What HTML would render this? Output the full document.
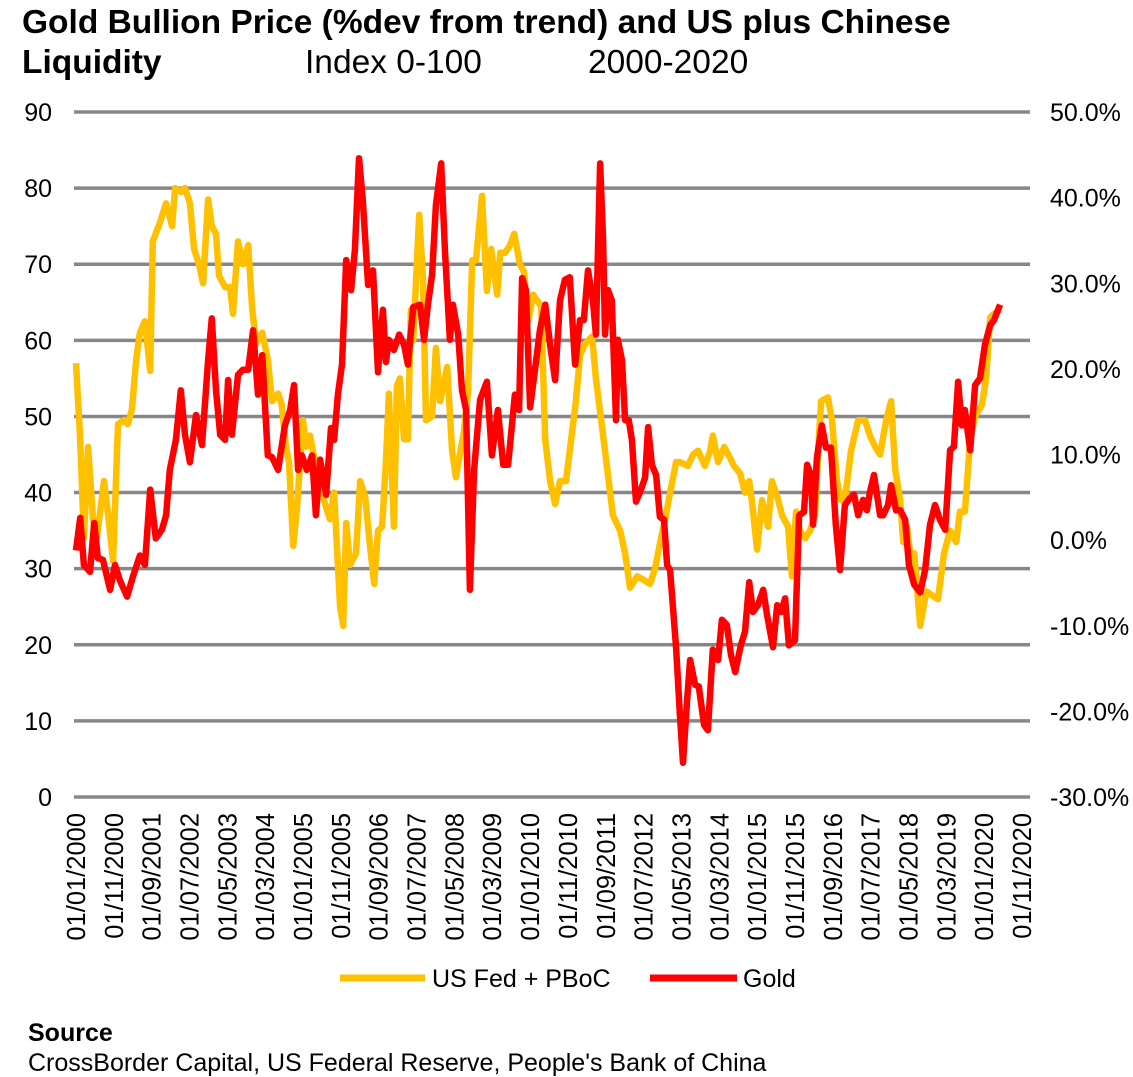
<!DOCTYPE html>
<html><head><meta charset="utf-8"><style>
body{margin:0;background:#fff;font-family:"Liberation Sans",Arial,sans-serif;}
#wrap{position:relative;width:1133px;height:1077px;overflow:hidden;}
</style></head><body>
<div id="wrap">
<svg id="chart" width="1133" height="1077" xmlns="http://www.w3.org/2000/svg" font-family="Liberation Sans, Arial, sans-serif">
<text x="22" y="33" font-size="33.5" font-weight="bold">Gold Bullion Price (%dev from trend) and US plus Chinese</text>
<text x="22" y="73" font-size="33.5" font-weight="bold">Liquidity</text>
<text x="305" y="73" font-size="33.5">Index 0-100</text>
<text x="588" y="73" font-size="33.5">2000-2020</text>
<g id="grid"></g><g id="yl"></g><g id="yr"></g><g id="xl"></g><g id="series"></g>
<line x1="340" y1="978" x2="425" y2="978" stroke="#FFC000" stroke-width="7"/>
<text x="432" y="987" font-size="25">US Fed + PBoC</text>
<line x1="650" y1="978" x2="737" y2="978" stroke="#FF0000" stroke-width="7"/>
<text x="743" y="987" font-size="25">Gold</text>
<text x="28" y="1041" font-size="25" font-weight="bold">Source</text>
<text x="28" y="1071" font-size="25">CrossBorder Capital, US Federal Reserve, People's Bank of China</text>
</svg></div>
<script>
const leftTicks=[0,10,20,30,40,50,60,70,80,90];
const rightTicks=["-30.0%","-20.0%","-10.0%","0.0%","10.0%","20.0%","30.0%","40.0%","50.0%"];
const xLabels=["01/01/2000","01/11/2000","01/09/2001","01/07/2002","01/05/2003","01/03/2004","01/01/2005","01/11/2005","01/09/2006","01/07/2007","01/05/2008","01/03/2009","01/01/2010","01/11/2010","01/09/2011","01/07/2012","01/05/2013","01/03/2014","01/01/2015","01/11/2015","01/09/2016","01/07/2017","01/05/2018","01/03/2019","01/01/2020","01/11/2020"];
const liqMonths=[0,1.1,2.1,3.2,4.5,5.5,7.4,8.5,9.8,11.1,12.7,13.7,14.8,15.9,16.9,18.2,19.6,20.3,22.2,23.8,25.4,26.2,27.7,28.8,30.1,31.2,32.5,33.6,34.9,35.9,37.0,37.8,39.4,40.7,41.5,42.8,44.1,45.5,46.5,47.6,49.2,50.7,51.8,53.4,54.4,55.5,56.3,57.4,58.4,60.0,60.8,61.8,63.4,64.5,65.5,67.1,68.2,69.8,70.6,71.4,72.4,74.0,75.1,76.4,77.7,78.8,79.8,80.9,81.9,82.7,84.0,84.8,85.6,86.7,87.7,88.5,89.1,90.7,91.7,92.5,94.1,95.1,96.2,98.1,99.4,100.4,102.5,103.6,104.7,105.7,107.3,108.6,109.7,111.3,112.1,113.4,114.7,115.8,117.3,118.4,119.5,120.8,122.9,124.0,125.3,126.6,127.9,129.5,131.1,132.1,133.2,134.5,136.4,137.4,138.8,139.8,141.9,143.8,145.1,146.4,148.3,150.1,151.7,153.0,154.6,155.7,157.0,158.6,159.6,161.7,163.1,164.4,166.2,167.6,168.3,169.7,171.3,172.9,173.9,175.5,176.8,177.9,178.6,180.0,181.3,182.9,183.9,185.3,186.6,188.2,189.2,190.3,191.3,192.7,194.0,195.3,196.3,196.9,198.7,199.8,201.1,202.2,203.2,204.8,206.7,208.5,209.8,211.2,212.5,214.1,215.4,216.5,217.8,218.6,219.6,220.7,221.5,223.1,224.7,226.2,227.8,229.4,231.0,232.6,233.6,234.9,236.3,237.6,239.4,240.5,241.6,242.6,244.2];
const liqValues=[57,47,34,46,36.5,34,41.5,37,31,49,49.5,49,51,57.5,61,62.5,56,73,75.5,78,75,80,79.5,80,78,72,70,67.5,78.5,75,74,68.5,67,67,63.5,73,70,72.5,64.5,59.5,61,57.5,52,53,51.5,46,44,33,38,49.5,46,47.5,43.5,43,39,36.5,40,25,22.5,36,30.5,32,41.5,39.5,33,28,35,35.5,44,53,35.5,54,55,47,47,64,60,76.5,68,49.5,50,59,52,56.5,45.5,42,48,53,70.5,70.5,79,66.5,72,66,71.5,71.5,72.5,74,70,69,62.5,66,64.5,47,41.5,38.5,41.5,41.5,48,52,58,59.5,60.5,55,49.5,45.5,37,35,32,27.5,29,28.5,28,30,34,36.5,40,44,44,43.5,45,45.5,43.5,45.5,47.5,44,46,44.5,43.5,42.5,40,41.5,39,32.5,39,35.5,41.5,39.5,37,35.5,29,37.5,35,34,35,37,47,52,52.5,49.5,41.5,39,39,45.5,49.5,49.5,47.5,46,45,49.5,52,43,39,33.5,35.5,31,32,22.5,27,26.5,26,32,35,33.5,37.5,37.5,47,50,51.5,55,63,63.5,64,65.5];
const goldMonths=[0,1.1,2.1,3.7,4.8,5.8,7.1,9.0,10.3,11.6,13.5,15.1,16.9,18.2,19.6,21.1,22.7,23.8,24.8,26.4,27.7,28.8,30.1,31.7,33.3,34.9,35.9,37.0,38.1,39.4,40.2,41.2,42.8,44.1,45.5,46.8,48.1,49.2,50.7,51.8,53.4,55.2,56.6,57.6,58.7,59.7,61.0,62.4,63.4,64.5,66.1,67.4,68.2,69.2,70.3,71.4,72.7,73.7,74.8,75.8,77.2,78.5,79.8,81.1,81.9,82.7,84.0,85.4,86.7,87.7,89.1,90.9,92.0,93.0,94.1,95.1,96.5,97.5,98.8,99.6,101.0,102.0,103.1,104.1,105.2,106.8,108.6,109.9,111.5,112.9,114.2,116.0,117.1,117.9,118.9,120.0,121.3,122.6,124.0,125.3,126.6,127.9,129.2,130.5,131.9,133.2,134.2,135.3,136.6,137.4,138.5,139.3,139.8,140.6,141.6,142.7,143.2,144.3,145.1,146.1,146.9,148.0,149.3,150.4,151.2,152.2,153.3,154.3,155.4,156.2,157.0,158.6,159.6,160.4,161.5,162.3,163.6,164.6,166.0,167.0,168.3,169.7,170.7,172.0,173.1,174.2,175.7,176.8,177.9,178.9,180.2,181.6,182.6,184.2,185.3,186.3,187.4,188.4,190.0,191.1,192.4,193.2,194.2,194.8,195.8,197.1,198.2,199.5,200.8,201.9,203.2,204.5,205.6,206.7,208.0,209.0,209.8,210.9,212.5,213.3,214.6,215.4,216.7,217.8,219.1,220.1,221.5,223.1,224.4,225.7,227.0,228.3,229.7,231.0,232.0,233.1,234.1,234.9,236.3,237.6,238.9,240.2,241.6,242.6,244.2];
const goldValues=[-1.2,2.6,-2.9,-3.7,2.0,-2.1,-2.3,-5.8,-2.9,-4.7,-6.6,-4.2,-1.8,-2.9,5.9,0.2,1.2,2.9,8.2,11.7,17.5,12.3,9.1,14.6,11.1,21.0,25.9,17.5,12.3,11.7,18.7,12.3,19.3,19.9,19.9,24.5,17.0,21.6,9.9,9.7,8.2,13.4,15.2,18.1,8.2,9.9,8.2,9.9,2.9,9.4,5.3,13.1,11.7,17.0,20.5,32.7,29.2,33.9,44.6,39.7,29.8,31.5,19.6,26.9,20.8,23.4,22.2,24.0,22.8,20.5,27.2,27.5,23.4,27.5,31.0,39.1,44.0,33.9,23.4,27.5,24.0,17.5,15.2,-5.8,8.2,16.4,18.5,9.9,15.2,8.8,8.8,17.0,15.2,30.6,29.2,15.5,19.9,24.5,27.5,22.8,18.7,28.0,30.4,30.7,20.5,25.7,25.7,31.5,28.0,24.0,44.0,35.1,24.0,29.2,28.0,14.0,23.4,21.0,14.0,14.0,11.7,4.5,5.9,7.3,13.2,8.8,7.6,2.7,2.4,-2.9,-3.5,-12.6,-20.4,-26.0,-18.7,-14.0,-16.9,-17.1,-21.6,-22.2,-12.8,-14.0,-9.3,-9.9,-13.4,-15.4,-12.3,-10.7,-4.9,-8.4,-7.6,-5.8,-8.7,-12.5,-7.6,-8.4,-6.8,-12.3,-11.7,2.9,3.3,8.8,7.6,1.8,9.6,13.4,10.8,10.8,1.8,-3.5,4.1,4.9,5.3,2.9,4.7,3.5,5.6,7.6,2.9,2.9,4.1,6.4,3.5,3.5,2.4,-2.9,-5.2,-6.1,-3.5,1.8,4.1,2.4,1.2,10.5,10.9,18.5,13.4,15.2,10.5,18.1,18.9,22.8,25.1,25.7,27.5];

const NS="http://www.w3.org/2000/svg";
const X0=76, MPX=3.784, YB=797, YT=112;
const xs=m=>X0+m*MPX;
const yL=v=>YB-(v/90)*(YB-YT);
const yR=p=>YB-((p+30)/80)*(YB-YT);
function mk(tag,attrs,parent){const e=document.createElementNS(NS,tag);for(const k in attrs)e.setAttribute(k,attrs[k]);parent.appendChild(e);return e;}
const grid=document.getElementById('grid'),yl=document.getElementById('yl'),yr=document.getElementById('yr'),xl=document.getElementById('xl'),ser=document.getElementById('series');
leftTicks.forEach(v=>{
  const g=mk('line',{x1:74,x2:1030,y1:yL(v),y2:yL(v),stroke:'#878787','stroke-width':3.5},grid);
  
  
  const t=mk('text',{x:52,y:yL(v)+9,'font-size':25,'text-anchor':'end'},yl);
  t.textContent=v;
  
  
});
rightTicks.forEach((s,i)=>{
  const p=parseFloat(s);
  const t=mk('text',{x:1050,y:yR(p)+9,'font-size':25},yr);
  t.textContent=s;
  
  
});
xLabels.forEach((s,i)=>{
  const x=xs(i*10)+9;
  const t=mk('text',{x:0,y:0,'font-size':25.5,'text-anchor':'end',transform:`translate(${x},813) rotate(-90)`},xl);
  t.textContent=s;
  
  
});
const pl=mk('polyline',{points:liqMonths.map((m,i)=>xs(m).toFixed(1)+','+yL(liqValues[i]).toFixed(1)).join(' '),fill:'none',stroke:'#FFC000','stroke-width':6.5,'stroke-linejoin':'round'},ser);


const pg=mk('polyline',{points:goldMonths.map((m,i)=>xs(m).toFixed(1)+','+yR(goldValues[i]).toFixed(1)).join(' '),fill:'none',stroke:'#FF0000','stroke-width':6.5,'stroke-linejoin':'round'},ser);


</script>
</body></html>
